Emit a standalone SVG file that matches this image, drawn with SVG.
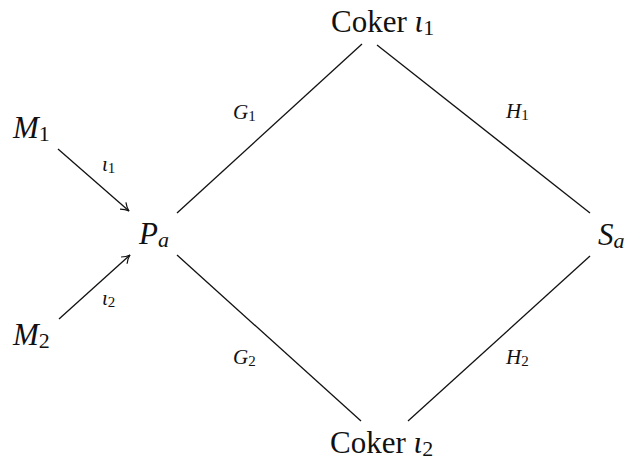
<svg xmlns="http://www.w3.org/2000/svg" width="628" height="464" viewBox="0 0 628 464">
<style>
.m{font-family:"Liberation Serif","DejaVu Serif",serif;font-style:italic;font-size:31px;fill:#111}
.r{font-family:"Liberation Serif","DejaVu Serif",serif;font-size:31px;fill:#111}
.s{font-family:"Liberation Serif","DejaVu Serif",serif;font-size:22px;font-style:normal}
.l{font-family:"Liberation Serif","DejaVu Serif",serif;font-style:italic;font-size:21px;fill:#111}
.ls{font-family:"Liberation Serif","DejaVu Serif",serif;font-size:15px;font-style:normal}
line{stroke:#111;stroke-width:1.3;fill:none}
</style>
<defs>
<marker id="ah" markerWidth="12" markerHeight="12" refX="10" refY="6" orient="auto" markerUnits="userSpaceOnUse" viewBox="0 0 12 12">
<path d="M2,1.5 Q6,5 10,6 Q6,7 2,10.5" fill="none" stroke="#111" stroke-width="1.2"/>
</marker>
</defs>
<g id="M1"><text class="m" x="13" y="138">M<tspan class="s" dy="3">1</tspan></text></g>
<g id="M2"><text class="m" x="13" y="345">M<tspan class="s" dy="3">2</tspan></text></g>
<g id="Pa"><text class="m" x="139" y="244">P<tspan style="font-size:22px" dy="3">a</tspan></text></g>
<g id="Sa"><text class="m" x="598" y="245">S<tspan style="font-size:22px" dy="3">a</tspan></text></g>
<g id="Coker1"><text class="r" x="331" y="32">Coker <tspan font-style="italic">ι</tspan><tspan class="s" dy="3">1</tspan></text></g>
<g id="Coker2"><text class="r" x="330" y="453">Coker <tspan font-style="italic">ι</tspan><tspan class="s" dy="3">2</tspan></text></g>
<g id="connectors">
<line x1="58" y1="149" x2="129" y2="211" marker-end="url(#ah)"/>
<line x1="59" y1="319" x2="130" y2="255" marker-end="url(#ah)"/>
<line x1="177" y1="213" x2="362" y2="44"/>
<line x1="377" y1="45" x2="590" y2="213"/>
<line x1="177" y1="255" x2="361" y2="421"/>
<line x1="408" y1="421" x2="590" y2="256"/>
<text class="l" x="102" y="171">ι<tspan class="ls" dy="2">1</tspan></text>
<text class="l" x="102" y="305">ι<tspan class="ls" dy="2">2</tspan></text>
<text class="l" x="233" y="119">G<tspan class="ls" dy="2">1</tspan></text>
<text class="l" x="506" y="118">H<tspan class="ls" dy="2">1</tspan></text>
<text class="l" x="233" y="364">G<tspan class="ls" dy="2">2</tspan></text>
<text class="l" x="506" y="364">H<tspan class="ls" dy="2">2</tspan></text>
</g>
</svg>
